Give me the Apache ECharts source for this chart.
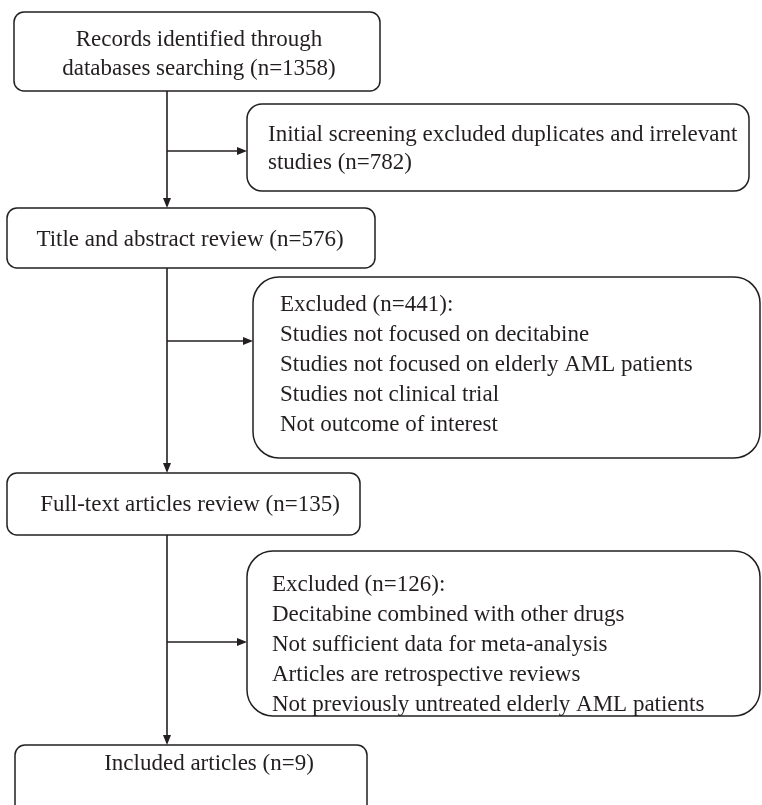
<!DOCTYPE html>
<html>
<head>
<meta charset="utf-8">
<script src="https://cdn.jsdelivr.net/npm/echarts@6/dist/echarts.min.js"></script>
<style>
  html, body { margin: 0; padding: 0; background: #fff; }
  #chart { width: 762px; height: 805px; }
</style>
</head>
<body>
<div id="chart"></div>
<script>
// flow steps and counts
const stepNames = ['Records identified through\ndatabases searching', 'Title and abstract review', 'Full-text articles review', 'Included articles'];
const stepCounts = [1358, 576, 135, 9];
const excludedCounts = [782, 441, 126];
const excludedReasons = [
  [],
  ['Studies not focused on decitabine', 'Studies not focused on elderly AML patients', 'Studies not clinical trial', 'Not outcome of interest'],
  ['Decitabine combined with other drugs', 'Not sufficient data for meta-analysis', 'Articles are retrospective reviews', 'Not previously untreated elderly AML patients']
];

// layout (pixels)
const stepBoxes = [
  { x: 14, y: 12, w: 366, h: 79, r: 10, tx: 199, ty: 54 },
  { x: 7, y: 208, w: 368, h: 60, r: 10, tx: 190, ty: 240 },
  { x: 7, y: 473, w: 353, h: 62, r: 10, tx: 190, ty: 505 },
  { x: 15, y: 745, w: 352, h: 80, r: 10, tx: 209, ty: 764 }
];
const sideBoxes = [
  { x: 247, y: 104, w: 502, h: 87, r: 15, tx: 268, ty: 135, lh: 28, ay: 151 },
  { x: 253, y: 277, w: 507, h: 181, r: 26, tx: 280, ty: 305, lh: 30, ay: 341 },
  { x: 247, y: 551, w: 513, h: 165, r: 26, tx: 272, ty: 585, lh: 30, ay: 642 }
];
const spineX = 167;
const ink = '#231f20';
const font = '23px "Liberation Serif", "Times New Roman", serif';

function arrowDown(x, y) {
  return { type: 'polygon', shape: { points: [[x - 4, y - 10], [x + 4, y - 10], [x, y]] }, style: { fill: ink } };
}
function arrowRight(x, y) {
  return { type: 'polygon', shape: { points: [[x - 10, y - 4], [x - 10, y + 4], [x, y]] }, style: { fill: ink } };
}

const elements = [];

stepBoxes.forEach(function (b, i) {
  elements.push({ type: 'rect', shape: { x: b.x, y: b.y, width: b.w, height: b.h, r: b.r },
    style: { fill: '#fff', stroke: ink, lineWidth: 1.5 } });
  let label = stepNames[i] + ' (n=' + stepCounts[i] + ')';
  elements.push({ type: 'text', x: b.tx, y: b.ty,
    style: { text: label, font: font, fill: ink, align: 'center', verticalAlign: 'middle', lineHeight: 29 } });
  if (i < stepBoxes.length - 1) {
    let y0 = b.y + b.h, y1 = stepBoxes[i + 1].y;
    elements.push({ type: 'line', shape: { x1: spineX, y1: y0, x2: spineX, y2: y1 - 8 }, style: { stroke: ink, lineWidth: 1.6 } });
    elements.push(arrowDown(spineX, y1));
  }
});

sideBoxes.forEach(function (b, i) {
  elements.push({ type: 'rect', shape: { x: b.x, y: b.y, width: b.w, height: b.h, r: b.r },
    style: { fill: '#fff', stroke: ink, lineWidth: 1.5 } });
  let lines;
  if (i === 0) {
    lines = ['Initial screening excluded duplicates and irrelevant', 'studies (n=' + excludedCounts[0] + ')'];
  } else {
    lines = ['Excluded (n=' + excludedCounts[i] + '):'].concat(excludedReasons[i]);
  }
  lines.forEach(function (t, k) {
    elements.push({ type: 'text', x: b.tx, y: b.ty + k * b.lh,
      style: { text: t, font: font, fill: ink, align: 'left', verticalAlign: 'middle' } });
  });
  elements.push({ type: 'line', shape: { x1: spineX, y1: b.ay, x2: b.x - 8, y2: b.ay }, style: { stroke: ink, lineWidth: 1.6 } });
  elements.push(arrowRight(b.x, b.ay));
});

const chart = echarts.init(document.getElementById('chart'));
chart.setOption({
  backgroundColor: '#fff',
  animation: false,
  graphic: { elements: elements }
});
</script>
</body>
</html>
